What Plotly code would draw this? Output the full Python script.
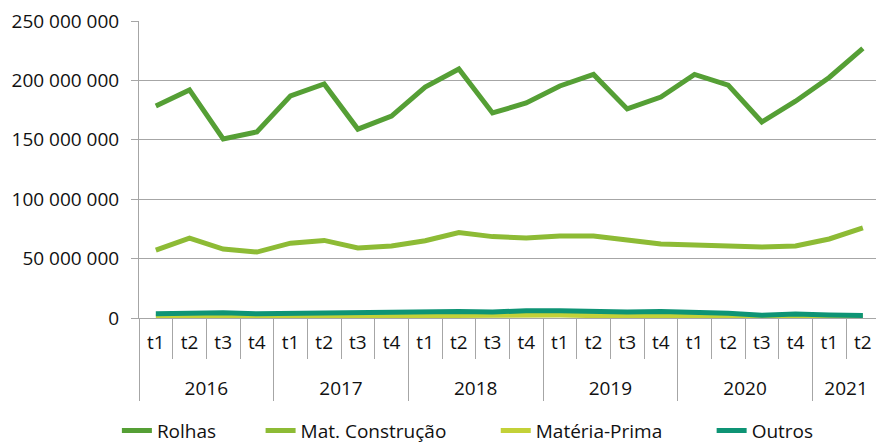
import plotly.graph_objects as go

years = ["2016"] * 4 + ["2017"] * 4 + ["2018"] * 4 + ["2019"] * 4 + ["2020"] * 4 + ["2021"] * 2
quarters = ["t1", "t2", "t3", "t4"] * 5 + ["t1", "t2"]

rolhas = [178.5e6, 192e6, 150.7e6, 156.6e6, 187e6, 197e6, 159e6, 170e6, 194.4e6, 209.6e6, 172.6e6, 181e6,
          195.3e6, 205e6, 176e6, 186e6, 205e6, 196e6, 165e6, 182.5e6, 202.5e6, 227e6]
mat_construcao = [57.2e6, 67.3e6, 58e6, 55.5e6, 63e6, 65.3e6, 59e6, 60.6e6, 65e6, 72e6, 68.5e6, 67.3e6,
                  69e6, 69e6, 65.6e6, 62.3e6, 61.4e6, 60.8e6, 59.8e6, 60.6e6, 66.5e6, 75.8e6]
materia_prima = [1.0e6, 1.2e6, 1.3e6, 1.2e6, 1.3e6, 1.4e6, 1.5e6, 1.6e6, 1.8e6, 2.0e6, 2.0e6, 2.5e6,
                 2.5e6, 2.0e6, 1.5e6, 1.8e6, 1.5e6, 1.2e6, 1.0e6, 1.2e6, 1.0e6, 1.0e6]
outros = [3.5e6, 4.0e6, 4.5e6, 3.5e6, 4.0e6, 4.0e6, 4.5e6, 5.0e6, 5.0e6, 5.5e6, 5.0e6, 6.2e6,
          6.0e6, 5.0e6, 5.0e6, 5.5e6, 5.0e6, 3.9e6, 2.3e6, 3.4e6, 2.5e6, 2.2e6]

names = ["Rolhas", "Mat. Construção", "Matéria-Prima", "Outros"]
colors = ["#559F35", "#8DBB35", "#C3D138", "#0E9475"]
values = [rolhas, mat_construcao, materia_prima, outros]
legend_pad = [8, 9, 9, 0]  # trailing spacing between legend entries

# outer level labels pushed one line down, as in the reference
year_labels = ["<br>" + y for y in years]

fig = go.Figure()
for name, vals, color, pad in zip(names, values, colors, legend_pad):
    fig.add_trace(go.Scatter(
        x=[year_labels, quarters], y=vals, name=name + "\u00a0" * pad, mode="lines",
        line=dict(color=color, width=5),
    ))

grid = "#A6A6A6"
fig.update_layout(
    width=876, height=444,
    margin=dict(l=139, r=0, t=21, b=126, autoexpand=False),
    paper_bgcolor="white", plot_bgcolor="white",
    separators=", ",
    font=dict(family="Open Sans", size=19, color="#111111"),
    showlegend=True,
    legend=dict(orientation="h", xanchor="left", x=-0.03, yanchor="top", y=-0.315,
                font=dict(size=19), itemwidth=30),
    xaxis=dict(
        type="multicategory", range=[-0.5, 21.39], automargin=False,
        showline=True, linecolor=grid, linewidth=1,
        ticks="outside", tickson="boundaries", ticklen=40, tickcolor=grid,
        showdividers=True, dividercolor=grid, dividerwidth=1,
        showgrid=False, tickfont=dict(size=19), ticklabelstandoff=7,
        ticklabeloverflow="allow",
    ),
    yaxis=dict(
        range=[0, 250e6], dtick=50e6, tickformat=",d", automargin=False,
        showgrid=True, gridcolor=grid, gridwidth=1,
        showline=True, linecolor=grid, linewidth=1,
        ticks="outside", ticklen=7, tickcolor=grid,
        zeroline=False, tickfont=dict(size=19), ticklabelstandoff=8,
        ticklabeloverflow="allow",
    ),
)

fig.write_html(
    "out.html",
    config={"displayModeBar": False},
    post_script="document.body.style.margin='0';document.body.style.overflow='hidden';",
)
